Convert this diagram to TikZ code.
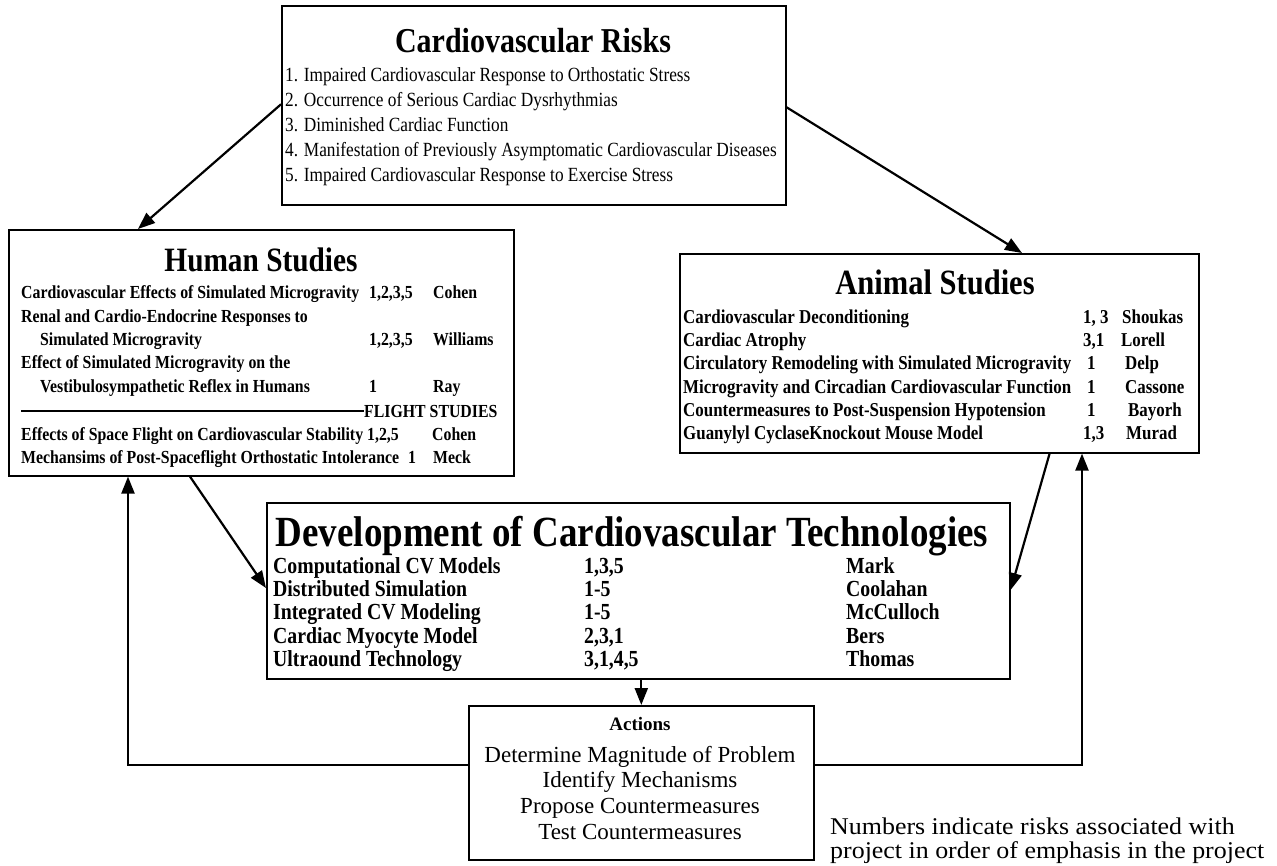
\documentclass[tikz,border=0pt]{standalone}
\usepackage{fontspec}
\setmainfont{Liberation Serif}[FakeStretch=0.86]
\newfontfamily\plainrm{Liberation Serif}
\newfontfamily\notefont{Liberation Serif}[FakeStretch=1.08]
\usetikzlibrary{arrows.meta}
\tikzset{
  box/.style={draw, line width=1.6pt, inner sep=0pt, anchor=north west},
  base/.style={inner sep=0pt, text depth=0pt},
  rttl/.style={base, font=\fontsize{34.9}{40}\selectfont\bfseries, text height=23pt, anchor=center},
  rrow/.style={base, font=\fontsize{20.1}{24}\selectfont, text height=13.3pt, anchor=west},
  httl/.style={base, font=\fontsize{34.1}{40}\selectfont\bfseries, text height=22.5pt, anchor=center},
  hrow/.style={base, font=\fontsize{18.4}{22}\selectfont\bfseries, text height=12.1pt, anchor=west},
  attl/.style={base, font=\fontsize{35.5}{41}\selectfont\bfseries, text height=23.4pt, anchor=center},
  arow/.style={base, font=\fontsize{19.65}{23}\selectfont\bfseries, text height=13pt, anchor=west},
  dttl/.style={base, font=\fontsize{43}{50}\selectfont\bfseries, text height=28.4pt, anchor=center},
  drow/.style={base, font=\fontsize{23}{27}\selectfont\bfseries, text height=15.2pt, anchor=west},
  acttl/.style={base, font=\plainrm\fontsize{19}{23}\selectfont\bfseries, text height=12.5pt, anchor=center},
  act/.style={base, font=\plainrm\fontsize{23}{27}\selectfont, text height=15.2pt, anchor=center},
  note/.style={base, font=\notefont\fontsize{24}{28}\selectfont, text height=15.8pt, anchor=west},
  conn/.style={line width=2.2pt, -{Triangle[length=17pt,width=13pt]}}
}
\begin{document}
\begin{tikzpicture}[x=1pt,y=-1pt]
\useasboundingbox (0,0) rectangle (1277,866);
% boxes
\node[box, minimum width=504pt, minimum height=199pt] (risks) at (281,5) {};
\node[box, minimum width=505pt, minimum height=246pt] (human) at (8,229) {};
\node[box, minimum width=519pt, minimum height=199pt] (animal) at (679,253) {};
\node[box, minimum width=743pt, minimum height=176pt] (dev) at (266,502) {};
\node[box, minimum width=345pt, minimum height=154pt] (actions) at (468,705) {};
% risks
\node[rttl] (rt) at (533,41) {Cardiovascular Risks};
\node[rrow] (r1) at (285,75) {1. Impaired Cardiovascular Response to Orthostatic Stress};
\node[rrow] (r2) at (285,100) {2. Occurrence of Serious Cardiac Dysrhythmias};
\node[rrow] (r3) at (285,125) {3. Diminished Cardiac Function};
\node[rrow] (r4) at (285,150) {4. Manifestation of Previously Asymptomatic Cardiovascular Diseases};
\node[rrow] (r5) at (285,175) {5. Impaired Cardiovascular Response to Exercise Stress};
% human
\node[httl] (ht) at (261,260) {Human Studies};
\node[hrow] (h1) at (21,292) {Cardiovascular Effects of Simulated Microgravity};
\node[hrow] (h1n) at (369,292) {1,2,3,5};
\node[hrow] (h1p) at (433,292) {Cohen};
\node[hrow] (h2) at (21,316) {Renal and Cardio-Endocrine Responses to};
\node[hrow] (h3) at (40,339) {Simulated Microgravity};
\node[hrow] (h3n) at (369,339) {1,2,3,5};
\node[hrow] (h3p) at (433,339) {Williams};
\node[hrow] (h4) at (21,362) {Effect of Simulated Microgravity on the};
\node[hrow] (h5) at (40,386) {Vestibulosympathetic Reflex in Humans};
\node[hrow] (h5n) at (369,386) {1};
\node[hrow] (h5p) at (433,386) {Ray};
\coordinate (fl0) at (21,411);
\node[hrow] (flight) at (364,411) {FLIGHT STUDIES};
\draw[line width=1.2pt] (fl0) -- (flight.west);
\node[hrow] (h6) at (21,434) {Effects of Space Flight on Cardiovascular Stability};
\node[hrow] (h6n) at (367,434) {1,2,5};
\node[hrow] (h6p) at (432,434) {Cohen};
\node[hrow] (h7) at (21,457) {Mechansims of Post-Spaceflight Orthostatic Intolerance};
\node[hrow] (h7n) at (408,457) {1};
\node[hrow] (h7p) at (433,457) {Meck};
% animal
\node[attl] (at) at (935,283) {Animal Studies};
\node[arow] (a1) at (683,317) {Cardiovascular Deconditioning};
\node[arow] (a1n) at (1083,317) {1, 3};
\node[arow] (a1p) at (1122,317) {Shoukas};
\node[arow] (a2) at (683,340) {Cardiac Atrophy};
\node[arow] (a2n) at (1083,340) {3,1};
\node[arow] (a2p) at (1121,340) {Lorell};
\node[arow] (a3) at (683,363) {Circulatory Remodeling with Simulated Microgravity};
\node[arow] (a3n) at (1087,363) {1};
\node[arow] (a3p) at (1125,363) {Delp};
\node[arow] (a4) at (683,387) {Microgravity and Circadian Cardiovascular Function};
\node[arow] (a4n) at (1087,387) {1};
\node[arow] (a4p) at (1125,387) {Cassone};
\node[arow] (a5) at (683,410) {Countermeasures to Post-Suspension Hypotension};
\node[arow] (a5n) at (1087,410) {1};
\node[arow] (a5p) at (1128,410) {Bayorh};
\node[arow] (a6) at (683,433) {Guanylyl CyclaseKnockout Mouse Model};
\node[arow] (a6n) at (1083,433) {1,3};
\node[arow] (a6p) at (1126,433) {Murad};
% development
\node[dttl] (dt) at (632,532) {Development of Cardiovascular Technologies};
\node[drow] (d1) at (273,566) {Computational CV Models};
\node[drow] (d1n) at (584,566) {1,3,5};
\node[drow] (d1p) at (846,566) {Mark};
\node[drow] (d2) at (273,589) {Distributed Simulation};
\node[drow] (d2n) at (584,589) {1-5};
\node[drow] (d2p) at (846,589) {Coolahan};
\node[drow] (d3) at (273,612) {Integrated CV Modeling};
\node[drow] (d3n) at (584,612) {1-5};
\node[drow] (d3p) at (846,612) {McCulloch};
\node[drow] (d4) at (273,636) {Cardiac Myocyte Model};
\node[drow] (d4n) at (584,636) {2,3,1};
\node[drow] (d4p) at (846,636) {Bers};
\node[drow] (d5) at (273,659) {Ultraound Technology};
\node[drow] (d5n) at (584,659) {3,1,4,5};
\node[drow] (d5p) at (846,659) {Thomas};
% actions
\node[acttl] (act0) at (640,724) {Actions};
\node[act] (act1) at (640,755) {Determine Magnitude of Problem};
\node[act] (act2) at (640,780) {Identify Mechanisms};
\node[act] (act3) at (640,806) {Propose Countermeasures};
\node[act] (act4) at (640,832) {Test Countermeasures};
% note
\node[note] (n1) at (830,827) {Numbers indicate risks associated with};
\node[note] (n2) at (830,851) {project in order of emphasis in the project};
% connectors
\draw[conn] ([yshift=1pt]risks.west) -- ([xshift=130pt]human.north west);
\draw[conn] ([yshift=-2pt]risks.east) -- ([xshift=343pt]animal.north west);
\draw[conn] ([xshift=182pt]human.south west) -- ([yshift=-86pt]dev.north west);
\draw[conn] ([xshift=-150pt]animal.south east) -- ([yshift=-88pt]dev.north east);
\draw[conn] (dev.south -| actions.north) -- (actions.north);
\coordinate (lc) at (128,765);
\coordinate (rc) at (1082,765);
\draw[conn] (actions.west |- lc) -- (lc) -- (lc |- human.south);
\draw[conn] (actions.east |- rc) -- (rc) -- (rc |- animal.south);
\end{tikzpicture}
\end{document}
